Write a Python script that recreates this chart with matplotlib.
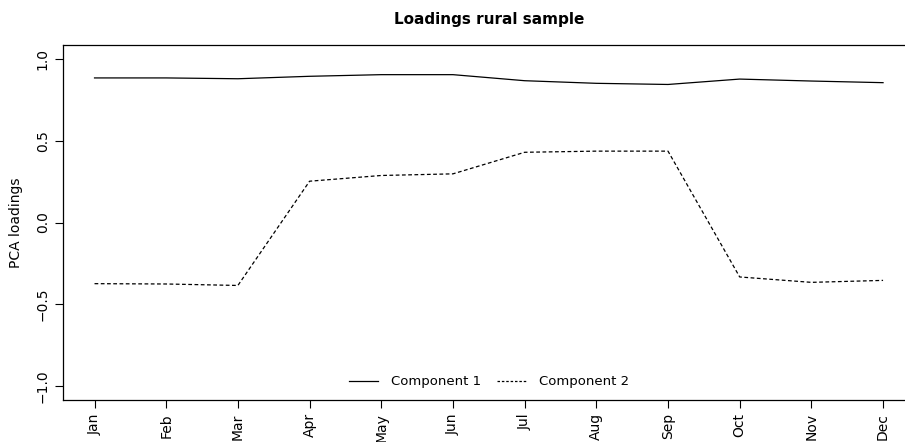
import matplotlib.pyplot as plt
from matplotlib.lines import Line2D

months = ["Jan", "Feb", "Mar", "Apr", "May", "Jun",
          "Jul", "Aug", "Sep", "Oct", "Nov", "Dec"]
comp1 = [0.885, 0.885, 0.880, 0.895, 0.905, 0.905,
         0.868, 0.852, 0.845, 0.878, 0.866, 0.856]
comp2 = [-0.374, -0.376, -0.385, 0.253, 0.288, 0.298,
         0.430, 0.437, 0.437, -0.333, -0.366, -0.354]

plt.rcParams["font.family"] = "DejaVu Sans"

fig = plt.figure(figsize=(9.05, 4.42), dpi=100)
ax = fig.add_axes([0.0696, 0.095, 0.941, 0.803])

x = range(1, len(months) + 1)
ax.plot(x, comp1, color="black", lw=0.9, ls="-")
ax.plot(x, comp2, color="black", lw=0.9, ls=(0, (3, 2)))

ax.set_xlim(0.56, 12.44)
ax.set_ylim(-1.086, 1.086)
ax.set_xticks(list(x))
ax.set_xticklabels(months, rotation=90, fontsize=10)
ax.set_yticks([-1.0, -0.5, 0.0, 0.5, 1.0])
ax.set_yticklabels(["\u22121.0", "\u22120.5", "0.0", "0.5", "1.0"],
                   rotation=90, va="center", fontsize=10)
ax.tick_params(length=5.5, width=0.8, direction="out", pad=4)
for s in ax.spines.values():
    s.set_linewidth(0.9)
ax.spines["right"].set_visible(False)

ax.set_ylabel("PCA loadings", fontsize=10, labelpad=9)
ax.set_title("Loadings rural sample", fontsize=11, fontweight="bold", pad=15)

handles = [Line2D([], [], color="black", lw=0.9, ls="-"),
           Line2D([], [], color="black", lw=0.9, ls=(0, (2, 1.5)))]
ax.legend(handles, ["Component 1", "Component 2"], loc="lower center",
          bbox_to_anchor=(0.5, 0.0), ncol=2, frameon=False, fontsize=9.5,
          handlelength=2.2, columnspacing=1.2, handletextpad=1.0)

fig.savefig("out.png", dpi=100)
